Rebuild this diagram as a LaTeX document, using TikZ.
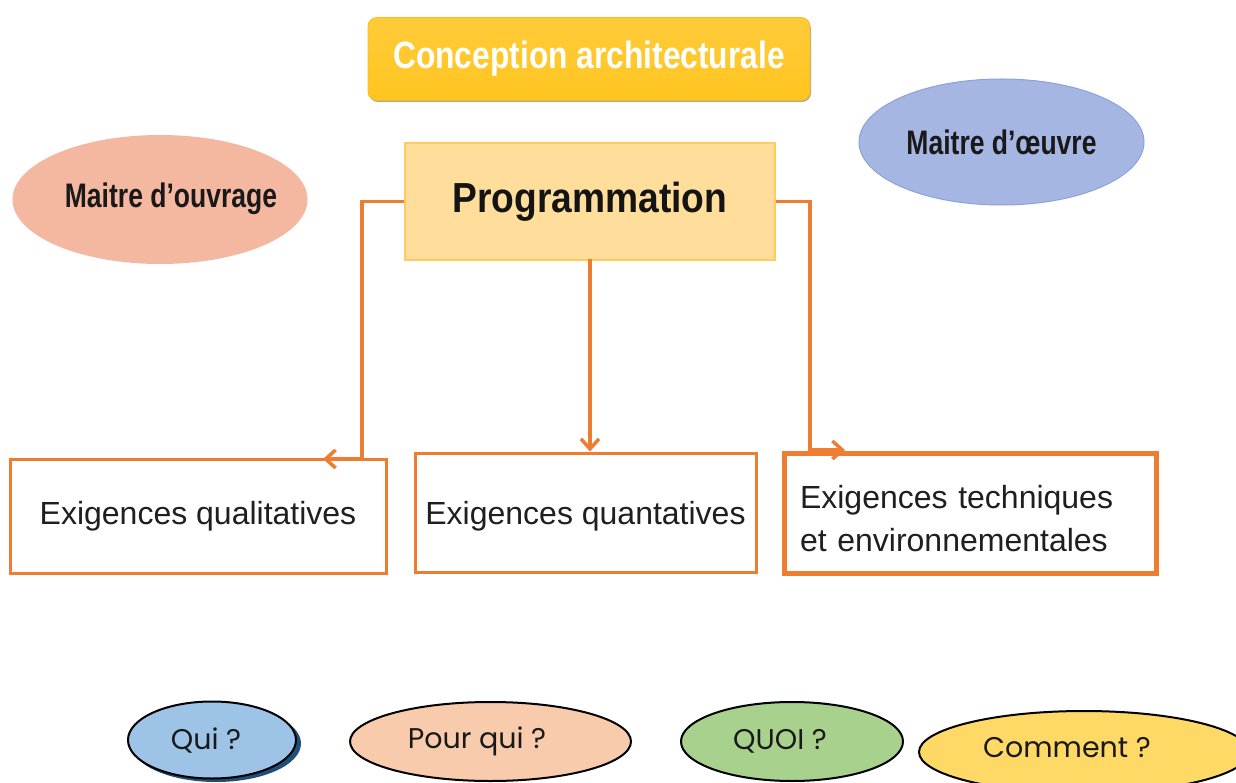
\documentclass[tikz,border=0pt]{standalone}
\usepackage{fontspec}
\setmainfont{Liberation Sans}
\newfontfamily\geo{Poppins}
\usetikzlibrary{shapes.geometric,arrows.meta}
\definecolor{linkorange}{HTML}{ED7D31}
\definecolor{titleyellow}{HTML}{FFC51F}
\definecolor{titletop}{HTML}{FFCB3A}
\definecolor{progfill}{HTML}{FFDE9C}
\definecolor{progedge}{HTML}{FFCB60}
\definecolor{moafill}{HTML}{F4B8A0}
\definecolor{moefill}{HTML}{A6B6E3}
\definecolor{moeedge}{HTML}{8EA1D8}
\definecolor{quifill}{HTML}{9DC3E6}
\definecolor{quishadow}{HTML}{1F4E79}
\definecolor{pourfill}{HTML}{F8CBAD}
\definecolor{quoifill}{HTML}{A9D18E}
\definecolor{commentfill}{HTML}{FFD966}
\tikzset{
  reqbox/.style={draw=linkorange, line width=3pt, fill=white, inner sep=0pt,
    font=\fontsize{32}{40}\selectfont, text=black!88},
  actor/.style={ellipse, inner sep=0pt, font=\fontsize{34}{40}\selectfont\bfseries, text=black!90},
  question/.style={ellipse, draw=black, line width=2pt, inner sep=0pt},
  qtext/.style={inner sep=0pt, font=\geo\fontsize{28.5}{32}\selectfont, text=black!90},
  link/.style={draw=linkorange, line width=3.5pt},
  tip/.style={-{Straight Barb[length=10pt,width=18pt,line width=3.5pt]}}
}
\begin{document}
\begin{tikzpicture}[x=1pt,y=-1pt]
\clip (0,0) rectangle (1236,783);
\fill[white] (0,0) rectangle (1236,783);

% title banner with its soft shadow
\fill[black!35, rounded corners=9pt] (369,20) rectangle (811,102);
\node (title) [rounded corners=9pt, top color=titletop, bottom color=titleyellow,
  draw=titleyellow!85!orange, line width=0.8pt,
  minimum width=442pt, minimum height=83pt, inner sep=0pt,
  font=\fontsize{38}{44}\selectfont\bfseries, text=white]
  at (589,59) {\scalebox{0.835}[1]{Conception architecturale}};

% actors
\node (moa) [actor, fill=moafill, minimum width=295pt, minimum height=129pt]
  at (160,199.5) {};
\node (moatext) at (171,199) [font=\fontsize{34}{40}\selectfont\bfseries, text=black!90]
  {\scalebox{0.78}[1]{Maitre d’ouvrage}};
\node (moe) [actor, fill=moefill, draw=moeedge, line width=1pt,
  minimum width=285pt, minimum height=126pt] at (1001.5,142)
  {\scalebox{0.78}[1]{Maitre d’œuvre}};

% central step
\node (prog) [draw=progedge, line width=1.5pt, fill=progfill,
  minimum width=370pt, minimum height=117pt, inner sep=0pt,
  font=\fontsize{42}{48}\selectfont\bfseries, text=black!92]
  at (590,201.5) {\scalebox{0.885}[1]{Programmation}};

% requirement boxes
\node (qual) [reqbox, minimum width=376pt, minimum height=114pt] at (198,516)
  {Exigences qualitatives};
\node (quant) [reqbox, minimum width=341pt, minimum height=119pt] at (585.5,512.5)
  {\raisebox{-12pt}[0pt][0pt]{Exigences quantatives}};
\node (tech) [reqbox, line width=5pt, minimum width=372pt, minimum height=120pt,
  text width=340pt, align=left] at (970,513)
  {\raisebox{-12pt}[0pt][0pt]{\parbox{340pt}{\fontsize{32}{43}\selectfont Exigences techniques\\et environnementales}}};

% connectors
\coordinate (lk) at (362,459);
\coordinate (ltip) at (323,459);
\coordinate (rk) at (810,450);
\coordinate (rtip) at (845,450);
\draw[link, tip] (prog.west) -| (lk) -- (ltip);
\draw[link, tip] ([yshift=2pt]prog.south) -- (prog.south |- quant.north);
\draw[link, tip] (prog.east) -| (rk) -- (rtip);

% questions
\fill[quishadow] (216,743.5) ellipse [x radius=85pt, y radius=38.5pt];
\node (qui) [question, fill=quifill, minimum width=168pt, minimum height=77pt]
  at (212,740) {};
\node (pour) [question, fill=pourfill, minimum width=281pt, minimum height=79pt]
  at (490.5,741.5) {};
\node (quoi) [question, fill=quoifill, minimum width=222pt, minimum height=79pt]
  at (792,741.5) {};
\node (comment) [question, fill=commentfill, minimum width=330pt, minimum height=82pt]
  at (1084,752) {};
\node (quitext) [qtext] at (206,741) {Qui ?};
\node (pourtext) [qtext] at (477,741) {Pour qui ?};
\node (quoitext) [qtext] at (780,741) {QUOI ?};
\node (commenttext) [qtext] at (1067,748) {Comment ?};
\end{tikzpicture}
\end{document}
